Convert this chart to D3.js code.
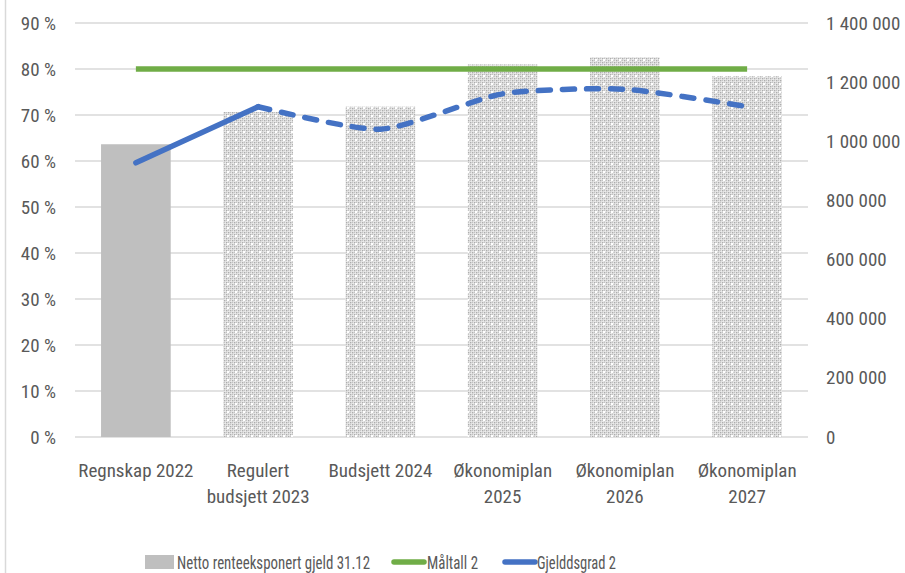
<!DOCTYPE html>
<html>
  <head>
    <meta charset="UTF-8" />
    <style>
      body { margin: 0; background: #fff; }
      svg text { font-family: "Liberation Sans Narrow", "Roboto Condensed", "Liberation Sans", sans-serif; fill: #595959; font-size: 19px; }
    </style>
  </head>
  <body>
    <svg></svg>
    <script src="https://d3js.org/d3.v7.min.js"></script>
    <script>
      let width = 905,
        height = 573;

      // data
      const categories = [
        ["Regnskap 2022"],
        ["Regulert", "budsjett 2023"],
        ["Budsjett 2024"],
        ["Økonomiplan", "2025"],
        ["Økonomiplan", "2026"],
        ["Økonomiplan", "2027"],
      ];
      const gjeld = [990000, 1099000, 1117000, 1260000, 1284000, 1220000];
      const maltall = [80, 80, 80, 80, 80, 80];
      const gjeldsgrad = [59.6, 71.8, 66.9, 74.6, 75.6, 71.8];
      const leftTicks = [0, 10, 20, 30, 40, 50, 60, 70, 80, 90];
      const rightTicks = [0, 200000, 400000, 600000, 800000, 1000000, 1200000, 1400000];
      const legendKeys = ["Netto renteeksponert gjeld 31.12", "Måltall 2", "Gjelddsgrad 2"];

      let svg = d3.select("svg").attr("width", width).attr("height", height);

      // dotted fill for the budget bars
      let defs = svg.append("defs");
      let pat = defs
        .append("pattern")
        .attr("id", "dots")
        .attr("patternUnits", "userSpaceOnUse")
        .attr("width", 8)
        .attr("height", 8);
      pat.append("rect").attr("width", 8).attr("height", 8).attr("fill", "#ededed");
      for (let i = 0; i < 4; i++) {
        for (let j = 0; j < 4; j++) {
          if ((i + j) % 2 == 0) {
            pat.append("rect").attr("x", i * 2).attr("y", j * 2).attr("width", 1.4).attr("height", 1.4).attr("fill", "#adadad");
          } else {
            pat.append("rect").attr("x", i * 2).attr("y", j * 2).attr("width", 1.2).attr("height", 1.2).attr("fill", "#c4c4c4");
          }
        }
      }
      pat.append("rect").attr("x", 3).attr("y", 3).attr("width", 2).attr("height", 2).attr("fill", "#fff");

      // chart border (left edge visible)
      svg.append("line").attr("x1", 5.5).attr("x2", 5.5).attr("y1", 0).attr("y2", height)
        .attr("stroke", "#d9d9d9").attr("stroke-width", 1.5);

      const plotL = 75, plotR = 808, plotT = 23, plotB = 437;

      let x = d3
        .scaleBand()
        .domain(d3.range(categories.length))
        .range([plotL, plotR])
        .paddingInner(0.43)
        .paddingOuter(0.213);

      let yL = d3.scaleLinear().domain([0, 90]).range([plotB, plotT]);
      let yR = d3.scaleLinear().domain([0, 1400000]).range([plotB, plotT]);

      // gridlines
      svg
        .append("g")
        .selectAll("line")
        .data(leftTicks)
        .enter()
        .append("line")
        .attr("x1", plotL)
        .attr("x2", plotR)
        .attr("y1", (d) => yL(d))
        .attr("y2", (d) => yL(d))
        .attr("stroke", "#d9d9d9")
        .attr("stroke-width", 1.5);

      // left axis
      let axL = svg
        .append("g")
        .attr("transform", "translate(" + plotL + ",0)")
        .call(d3.axisLeft(yL).tickValues(leftTicks).tickSize(0).tickPadding(19).tickFormat((d) => d + " %"));
      axL.select(".domain").remove();

      // right axis
      let fmt = (d) => d3.format(",")(d).replace(/,/g, " ");
      let axR = svg
        .append("g")
        .attr("transform", "translate(" + plotR + ",0)")
        .call(d3.axisRight(yR).tickValues(rightTicks).tickSize(0).tickPadding(18).tickFormat(fmt));
      axR.select(".domain").remove();
      axR.attr("font-size", null).attr("font-family", null);
      axL.attr("font-size", null).attr("font-family", null);

      // bars
      svg
        .append("g")
        .selectAll("rect")
        .data(gjeld)
        .enter()
        .append("rect")
        .attr("x", (d, i) => x(i))
        .attr("width", x.bandwidth())
        .attr("y", (d) => yR(d))
        .attr("height", (d) => plotB - yR(d))
        .attr("fill", (d, i) => (i == 0 ? "#bfbfbf" : "url(#dots)"));

      // category labels
      let cat = svg
        .append("g")
        .selectAll("text")
        .data(categories)
        .enter()
        .append("text")
        .attr("text-anchor", "middle")
        .attr("x", (d, i) => x(i) + x.bandwidth() / 2)
        .attr("y", 477);
      cat
        .selectAll("tspan")
        .data((d) => d)
        .enter()
        .append("tspan")
        .attr("x", function () { return d3.select(this.parentNode).attr("x"); })
        .attr("dy", (d, i) => (i == 0 ? 0 : 26))
        .text((d) => d);

      let cx = (i) => x(i) + x.bandwidth() / 2;

      // Måltall line
      svg
        .append("path")
        .datum(maltall)
        .attr("fill", "none")
        .attr("stroke", "#70ad47")
        .attr("stroke-width", 5.5)
        .attr("d", d3.line().x((d, i) => cx(i)).y((d) => yL(d)));

      // Gjeldsgrad: actual year solid, rest dashed
      let line = d3.line().x((d) => cx(d.i)).y((d) => yL(d.v)).curve(d3.curveCardinal.tension(0.35));
      let pts = gjeldsgrad.map((v, i) => ({ i: i, v: v }));
      svg
        .append("path")
        .datum(pts.slice(0, 2))
        .attr("fill", "none")
        .attr("stroke", "#4472c4")
        .attr("stroke-width", 5.5)
        .attr("stroke-linecap", "round")
        .attr("d", line);
      svg
        .append("path")
        .datum(pts.slice(1))
        .attr("fill", "none")
        .attr("stroke", "#4472c4")
        .attr("stroke-width", 5.5)
        .attr("stroke-linecap", "round")
        .attr("stroke-dasharray", "12,12")
        .attr("d", line);

      // legend (text squeezed to the narrow widths of the original)
      let legend = svg.append("g").attr("id", "legend");
      let ly = 562;
      legend.append("rect").attr("x", 145).attr("y", ly - 7).attr("width", 29).attr("height", 14).attr("fill", "#bfbfbf");
      legend.append("text").attr("x", 177).attr("y", ly + 7)
        .attr("textLength", 193).attr("lengthAdjust", "spacingAndGlyphs").text(legendKeys[0]);
      legend.append("line").attr("x1", 394).attr("x2", 424).attr("y1", ly).attr("y2", ly)
        .attr("stroke", "#70ad47").attr("stroke-width", 5.5).attr("stroke-linecap", "round");
      legend.append("text").attr("x", 427).attr("y", ly + 7)
        .attr("textLength", 51).attr("lengthAdjust", "spacingAndGlyphs").text(legendKeys[1]);
      legend.append("line").attr("x1", 505).attr("x2", 535).attr("y1", ly).attr("y2", ly)
        .attr("stroke", "#4472c4").attr("stroke-width", 5.5).attr("stroke-linecap", "round");
      legend.append("text").attr("x", 537).attr("y", ly + 7)
        .attr("textLength", 79).attr("lengthAdjust", "spacingAndGlyphs").text(legendKeys[2]);
    </script>
  </body>
</html>
